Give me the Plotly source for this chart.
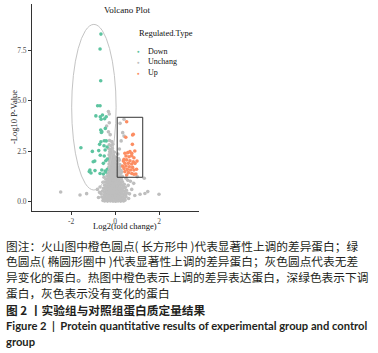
import plotly.graph_objects as go

# ---------------- data ----------------
categories = ["Down", "Unchang", "Up"]

down_pts = [
    (-0.64, 8.29), (-0.68, 7.55), (-0.65, 5.98), (-0.79, 4.74), (-0.68, 4.74),
    (-0.87, 4.24), (-0.67, 4.20), (-0.57, 4.28), (-0.40, 4.20), (-0.63, 4.07), (-0.47, 4.10),
    (-0.65, 3.54), (-0.60, 3.46), (-0.44, 3.62), (-0.62, 3.42),
    (-0.64, 2.96), (-0.49, 3.01), (-0.40, 3.00), (-0.70, 2.83), (-0.50, 2.76),
    (-1.55, 2.66), (-1.03, 2.48), (-0.74, 2.52), (-0.45, 2.55), (-0.36, 2.70),
    (-0.67, 2.29), (-0.49, 2.25), (-0.92, 2.00), (-0.99, 1.97), (-0.42, 2.02), (-0.53, 1.89), (-0.35, 2.10),
    (-1.14, 1.56), (-0.91, 1.53), (-0.60, 1.56), (-0.45, 1.51), (-0.35, 1.59),
    (-1.09, 1.41), (-1.17, 1.48), (-0.68, 1.39), (-0.53, 1.36), (-0.40, 1.45),
]

up_pts = [
    (0.53, 3.95), (0.80, 3.29), (0.83, 3.33), (0.49, 3.18), (0.79, 2.83),
    (0.45, 2.39), (0.58, 2.42), (0.68, 2.47), (0.76, 2.39), (0.90, 2.50),
    (0.50, 2.25), (0.64, 2.22), (0.76, 2.27), (0.86, 2.17),
    (0.41, 2.09), (0.53, 2.06), (0.68, 2.02), (0.83, 1.97), (1.00, 2.00), (0.38, 2.00),
    (0.45, 1.89), (0.61, 1.89), (0.76, 1.86), (0.91, 1.89),
    (0.50, 1.76), (0.65, 1.72), (0.80, 1.69), (0.35, 1.75),
    (0.41, 1.64), (0.56, 1.59), (0.71, 1.56), (0.86, 1.56), (0.98, 1.60),
    (0.45, 1.48), (0.61, 1.43), (0.76, 1.39), (0.95, 1.36), (0.86, 1.35), (0.53, 1.31),
]

unchang_pts = [
    (-0.55, 0.05), (-0.47, 0.03), (-0.41, 0.08), (-0.34, 0.02), (-0.28, 0.06), (-0.21, 0.03),
    (-0.15, 0.07), (-0.09, 0.02), (-0.03, 0.05), (0.03, 0.01), (0.08, 0.06), (0.14, 0.03),
    (0.20, 0.08), (0.26, 0.02), (0.32, 0.05), (0.39, 0.03), (0.46, 0.07),
    (-0.60, 0.22), (-0.52, 0.18), (-0.44, 0.24), (-0.37, 0.16), (-0.30, 0.21), (-0.24, 0.15),
    (-0.18, 0.23), (-0.12, 0.17), (-0.06, 0.25), (0.00, 0.19), (0.06, 0.14), (0.11, 0.22),
    (0.17, 0.17), (0.23, 0.25), (0.29, 0.18), (0.35, 0.22), (0.42, 0.16), (0.50, 0.24),
    (-0.63, 0.38), (-0.50, 0.33), (-0.42, 0.40), (-0.35, 0.32), (-0.29, 0.37), (-0.22, 0.31),
    (-0.16, 0.39), (-0.10, 0.34), (-0.04, 0.41), (0.02, 0.33), (0.08, 0.38), (0.14, 0.31),
    (0.20, 0.40), (0.26, 0.35), (0.33, 0.39), (0.40, 0.32), (0.48, 0.37), (0.56, 0.42),
    (-0.57, 0.52), (-0.48, 0.47), (-0.40, 0.55), (-0.33, 0.49), (-0.26, 0.53), (-0.20, 0.46),
    (-0.14, 0.56), (-0.08, 0.50), (-0.02, 0.54), (0.04, 0.47), (0.10, 0.53), (0.16, 0.49),
    (0.22, 0.55), (0.29, 0.48), (0.36, 0.52), (0.44, 0.50), (0.52, 0.56),
    (-0.52, 0.66), (-0.44, 0.62), (-0.37, 0.69), (-0.30, 0.63), (-0.24, 0.68), (-0.18, 0.61),
    (-0.12, 0.70), (-0.06, 0.64), (0.00, 0.67), (0.06, 0.62), (0.12, 0.69), (0.18, 0.64),
    (0.25, 0.68), (0.32, 0.63), (0.40, 0.67), (0.47, 0.70),
    (-0.47, 0.81), (-0.39, 0.77), (-0.32, 0.84), (-0.26, 0.78), (-0.20, 0.83), (-0.14, 0.76),
    (-0.08, 0.85), (-0.02, 0.79), (0.04, 0.82), (0.10, 0.77), (0.16, 0.84), (0.22, 0.80),
    (0.29, 0.83), (0.36, 0.78), (0.42, 0.85),
    (-0.43, 0.96), (-0.35, 0.92), (-0.28, 0.98), (-0.22, 0.93), (-0.16, 0.99), (-0.10, 0.91),
    (-0.04, 0.97), (0.02, 0.94), (0.08, 0.99), (0.14, 0.92), (0.20, 0.97), (0.27, 0.93), (0.34, 0.98),
    (-0.40, 1.11), (-0.33, 1.07), (-0.26, 1.13), (-0.20, 1.08), (-0.14, 1.14), (-0.08, 1.06),
    (-0.02, 1.12), (0.04, 1.09), (0.10, 1.14), (0.16, 1.07), (0.22, 1.12), (0.29, 1.10),
    (-0.36, 1.26), (-0.29, 1.22), (-0.23, 1.28), (-0.17, 1.23), (-0.11, 1.29), (-0.05, 1.21),
    (0.01, 1.27), (0.07, 1.24), (0.13, 1.30), (0.19, 1.22), (0.26, 1.27), (0.33, 1.25),
    (-0.33, 1.41), (-0.26, 1.37), (-0.20, 1.43), (-0.14, 1.38), (-0.08, 1.44), (-0.02, 1.36),
    (0.04, 1.42), (0.10, 1.39), (0.17, 1.44), (0.24, 1.40), (0.30, 1.45),
    (-0.30, 1.56), (-0.24, 1.52), (-0.18, 1.58), (-0.12, 1.53), (-0.06, 1.59), (0.00, 1.51),
    (0.06, 1.57), (0.13, 1.54), (0.20, 1.60), (0.27, 1.55),
    (-0.28, 1.71), (-0.21, 1.67), (-0.15, 1.73), (-0.09, 1.68), (-0.03, 1.74), (0.03, 1.66),
    (0.10, 1.72), (0.18, 1.69), (0.25, 1.75),
    (-0.27, 1.86), (-0.20, 1.82), (-0.14, 1.88), (-0.08, 1.83), (-0.02, 1.89), (0.05, 1.84),
    (0.14, 1.87), (0.22, 1.83),
    (-0.26, 2.01), (-0.19, 1.97), (-0.13, 2.03), (-0.07, 1.98), (0.00, 2.04), (0.10, 2.00), (0.20, 2.05),
    (-0.25, 2.16), (-0.18, 2.12), (-0.12, 2.18), (-0.05, 2.14), (0.03, 2.19), (0.16, 2.13),
    (-0.27, 2.31), (-0.20, 2.27), (-0.13, 2.33), (-0.06, 2.29), (0.13, 2.35),
    (-0.24, 2.46), (-0.17, 2.42), (-0.10, 2.48), (-0.03, 2.44),
    (-0.28, 2.61), (-0.20, 2.57), (-0.12, 2.63), (0.20, 2.60),
    (-0.26, 2.81), (-0.18, 2.76), (-0.10, 2.84),
    (-0.25, 3.02), (-0.15, 2.97), (0.28, 3.00),
    (-0.22, 3.31), (-0.30, 3.45), (0.35, 3.41), (0.41, 3.24),
    (-0.38, 3.74), (-0.26, 3.90), (0.23, 3.87),
    (-0.26, 4.33), (-0.30, 4.46), (0.41, 4.07),
    (-2.47, 0.47), (-1.59, 0.32), (-1.29, 0.39), (-0.80, 0.60), (-0.70, 0.45), (-0.75, 0.20),
    (-0.68, 0.72), (-0.55, 0.95), (-0.50, 1.20),
    (1.49, 0.49), (2.00, 0.36), (1.36, 0.40), (1.14, 0.36), (0.76, 0.60), (1.33, 1.15),
    (1.01, 1.23), (0.85, 0.90), (0.70, 1.00), (0.60, 0.80), (0.62, 0.15), (0.66, 0.38),
    (0.90, 0.30), (0.58, 1.05), (0.50, 1.15),
]

x_tick_vals = [-2, 0, 2]
x_tick_text = ["-2", "0", "2"]
y_tick_vals = [0, 2.5, 5, 7.5]
y_tick_text = ["0.0", "2.5", "5.0", "7.5"]

# highlight regions (data coords)
ellipse_box = dict(x0=-1.97, x1=0.05, y0=0.57, y1=8.77)
rect_box = dict(x0=0.10, x1=1.26, y0=1.20, y1=4.17)

caption_lines = [
    "图注：火山图中橙色圆点( 长方形中 )代表显著性上调的差异蛋白；绿",
    "色圆点( 椭圆形圈中 )代表显著性上调的差异蛋白；灰色圆点代表无差",
    "异变化的蛋白。热图中橙色表示上调的差异表达蛋白，深绿色表示下调",
    "蛋白，灰色表示没有变化的蛋白",
]
fig_title_cn = "图 2 丨实验组与对照组蛋白质定量结果"
fig_title_en = ["Figure 2  |  Protein quantitative results of experimental group and control", "group"]

# ---------------- styles ----------------
W, H = 378, 353
colors = {"Down": "#5DC4A0", "Unchang": "#BEBEBE", "Up": "#FC8D62"}
serif = "Liberation Serif"
cjk = "Noto Sans CJK SC"

def px(x):
    return x / W

def py(y):
    return 1 - y / H

fig = go.Figure()
series = {"Down": down_pts, "Unchang": unchang_pts, "Up": up_pts}
for cat in ["Unchang", "Down", "Up"]:
    pts = series[cat]
    fig.add_trace(go.Scatter(
        x=[p[0] for p in pts], y=[p[1] for p in pts], mode="markers",
        marker=dict(size=3.6, color=colors[cat], line=dict(width=0)),
        name=cat, showlegend=False, hoverinfo="skip"))

fig.add_shape(type="circle", xref="x", yref="y", **ellipse_box,
              line=dict(color="#C4C4C4", width=1))
fig.add_shape(type="rect", xref="x", yref="y", **rect_box,
              line=dict(color="#333333", width=1))

axis_common = dict(showgrid=False, zeroline=False, showline=True, linecolor="#333333",
                   linewidth=1, ticks="outside", ticklen=3, tickcolor="#333333",
                   tickfont=dict(family=serif, size=7.5, color="#4D4D4D"))
fig.update_layout(
    width=W, height=H, margin=dict(l=0, r=0, t=0, b=0),
    paper_bgcolor="white", plot_bgcolor="white",
    xaxis=dict(domain=[px(32), px(199)], range=[-3.773, 3.818],
               tickvals=x_tick_vals, ticktext=x_tick_text, **axis_common),
    yaxis=dict(domain=[py(211), py(4)], range=[-0.47, 9.78],
               tickvals=y_tick_vals, ticktext=y_tick_text, **axis_common),
)

ann = []
ann.append(dict(text="Volcano Plot", x=px(127), y=py(10), font=dict(family=serif, size=9, color="#111")))
ann.append(dict(text="Log2(fold change)", x=px(125), y=py(226.5), font=dict(family=serif, size=8.5, color="#111")))
ann.append(dict(text="-Log10 P-Value", x=px(14), y=py(117), textangle=-90, font=dict(family=serif, size=8.5, color="#111")))
ann.append(dict(text="Regulated.Type", x=px(136.5), y=py(33), xanchor="left", font=dict(family=serif, size=8.5, color="#111")))
for i, cat in enumerate(categories):
    yy = 51 + i * 10.8
    ann.append(dict(text="●", x=px(138.5), y=py(yy), font=dict(size=4.5, color=colors[cat])))
    ann.append(dict(text=cat, x=px(146), y=py(yy), xanchor="left", font=dict(family=serif, size=8, color="#111")))

for i, line in enumerate(caption_lines):
    ann.append(dict(text=line, x=px(4), y=py(245 + i * 15.7), xanchor="left",
                    font=dict(family=cjk, size=11.7, color="#231F20")))
ann.append(dict(text="<b>" + fig_title_cn + "</b>", x=px(4), y=py(309), xanchor="left",
                font=dict(family=cjk, size=11.7, color="#231F20")))
for i, line in enumerate(fig_title_en):
    ann.append(dict(text="<b>" + line + "</b>", x=px(4), y=py(325.7 + i * 15.5), xanchor="left",
                    font=dict(family="Lato", size=11.2, color="#231F20")))

for a in ann:
    a.setdefault("xanchor", "center")
    a.update(xref="paper", yref="paper", yanchor="middle", showarrow=False)
fig.update_layout(annotations=ann)

fig.write_html("out.html", config={"displayModeBar": False, "staticPlot": True},
               post_script="document.body.style.margin='0';document.body.style.overflow='hidden';")
